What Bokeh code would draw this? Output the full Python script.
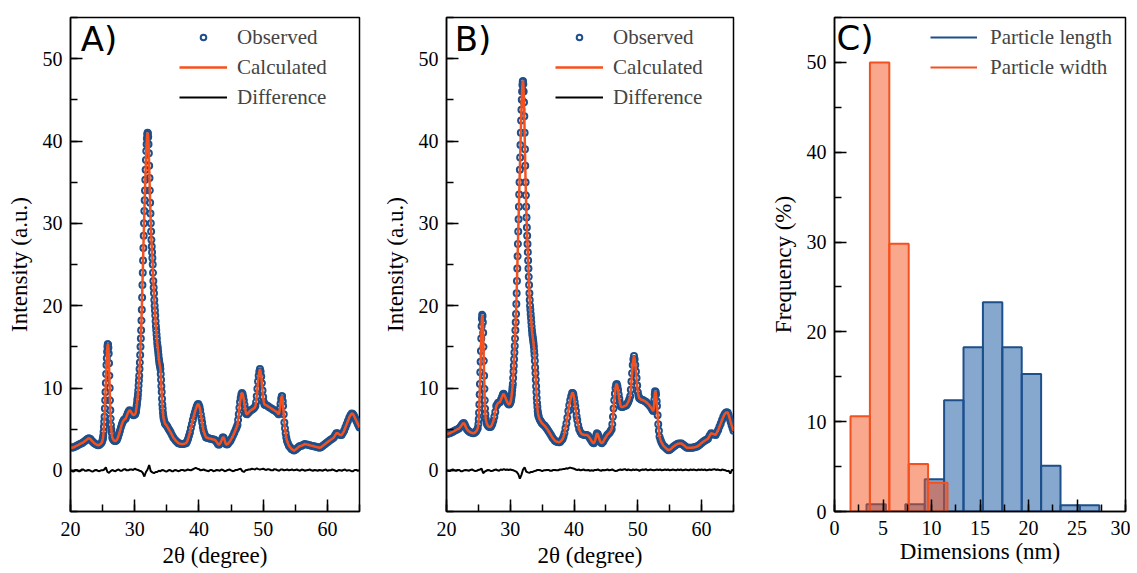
from bokeh.plotting import figure
from bokeh.layouts import row
from bokeh.models import Legend, LegendItem, Label, SingleIntervalTicker, Range1d
from bokeh.embed import file_html
from bokeh.resources import INLINE

# ---------------- data ----------------
# Panel A: (2theta, observed intensity)
pattern_A = [
    (20.0, 2.8), (20.25, 2.75), (20.5, 2.8), (20.75, 2.9), (21.0, 3.0), (21.25, 3.1), (21.5, 3.2),
    (21.75, 3.3), (22.0, 3.4), (22.25, 3.55), (22.5, 3.7), (22.7, 3.85), (22.9, 3.9), (23.1, 3.8),
    (23.3, 3.6), (23.5, 3.45), (23.7, 3.3), (23.9, 3.2), (24.1, 3.1), (24.3, 3.05), (24.5, 3.1),
    (24.7, 3.2), (24.9, 3.4), (25.0, 3.7), (25.05, 3.9), (25.1, 4.2), (25.15, 4.7), (25.2, 5.3),
    (25.25, 5.9), (25.3, 6.5), (25.35, 7.5), (25.4, 8.5), (25.45, 9.5), (25.5, 10.6), (25.55, 11.7),
    (25.6, 12.8), (25.65, 13.6), (25.7, 14.4), (25.75, 15.0), (25.8, 15.3), (25.85, 15.3), (25.9, 14.9),
    (25.95, 14.2), (26.0, 13.0), (26.05, 11.5), (26.1, 10.0), (26.15, 8.5), (26.2, 7.3), (26.25, 6.3),
    (26.3, 5.5), (26.35, 5.0), (26.4, 4.6), (26.5, 4.0), (26.6, 3.8), (26.7, 3.7), (26.8, 3.6),
    (26.95, 3.55), (27.1, 3.6), (27.25, 3.75), (27.4, 4.0), (27.55, 4.4), (27.7, 4.8), (27.85, 5.2),
    (28.0, 5.6), (28.15, 5.9), (28.3, 6.1), (28.45, 6.2), (28.6, 6.3), (28.75, 6.6), (28.9, 6.9),
    (29.05, 7.15), (29.2, 7.3), (29.35, 7.2), (29.5, 7.0), (29.65, 6.8), (29.8, 6.7), (29.95, 6.75),
    (30.0, 6.8), (30.05, 6.85), (30.1, 6.9), (30.15, 7.0), (30.2, 7.2), (30.25, 7.5), (30.3, 7.8),
    (30.35, 8.1), (30.4, 8.5), (30.45, 8.8), (30.5, 9.2), (30.55, 9.7), (30.6, 10.3), (30.65, 10.9),
    (30.7, 11.5), (30.75, 12.3), (30.8, 13.1), (30.85, 14.0), (30.9, 15.0), (30.95, 16.0), (31.0, 17.0),
    (31.05, 18.2), (31.1, 19.5), (31.15, 21.0), (31.2, 22.5), (31.25, 24.0), (31.3, 25.5), (31.35, 27.0),
    (31.4, 28.5), (31.45, 30.0), (31.5, 31.5), (31.55, 32.8), (31.6, 34.0), (31.65, 35.3), (31.7, 36.5),
    (31.75, 37.7), (31.8, 38.8), (31.85, 39.6), (31.9, 40.3), (31.95, 40.8), (32.0, 41.0), (32.05, 40.9),
    (32.1, 40.5), (32.15, 39.6), (32.2, 38.5), (32.25, 37.0), (32.3, 35.5), (32.35, 34.0), (32.4, 32.5),
    (32.45, 31.2), (32.5, 30.0), (32.55, 29.0), (32.6, 28.0), (32.65, 27.2), (32.7, 26.5), (32.75, 25.8),
    (32.8, 25.0), (32.85, 24.0), (32.9, 23.0), (32.95, 22.2), (33.0, 21.5), (33.05, 20.7), (33.1, 20.0),
    (33.15, 19.4), (33.2, 18.8), (33.25, 18.1), (33.3, 17.5), (33.35, 17.0), (33.4, 16.5), (33.45, 16.0),
    (33.5, 15.5), (33.55, 15.1), (33.6, 14.8), (33.65, 14.4), (33.7, 14.0), (33.75, 13.6), (33.8, 13.3),
    (33.85, 13.0), (33.9, 12.8), (33.95, 12.6), (34.0, 12.3), (34.05, 11.7), (34.1, 11.0), (34.15, 10.2),
    (34.2, 9.5), (34.25, 8.7), (34.3, 8.0), (34.35, 7.5), (34.4, 7.0), (34.45, 6.6), (34.5, 6.3),
    (34.6, 6.0), (34.7, 5.7), (34.85, 5.55), (35.0, 5.4), (35.15, 5.2), (35.3, 5.0), (35.45, 4.8),
    (35.6, 4.6), (35.8, 4.3), (36.0, 4.0), (36.2, 3.8), (36.4, 3.6), (36.6, 3.45), (36.8, 3.3),
    (37.0, 3.25), (37.2, 3.2), (37.4, 3.2), (37.6, 3.2), (37.8, 3.25), (38.0, 3.3), (38.15, 3.5),
    (38.3, 3.8), (38.45, 4.2), (38.6, 4.6), (38.75, 5.1), (38.9, 5.6), (39.05, 6.1), (39.2, 6.6),
    (39.35, 7.0), (39.5, 7.4), (39.65, 7.75), (39.8, 8.0), (39.9, 8.05), (40.0, 7.9), (40.1, 7.65),
    (40.2, 7.3), (40.3, 6.8), (40.4, 6.3), (40.5, 5.8), (40.6, 5.3), (40.7, 4.9), (40.8, 4.6),
    (40.95, 4.3), (41.1, 4.0), (41.3, 3.95), (41.5, 3.9), (41.75, 3.85), (42.0, 3.8), (42.25, 3.75),
    (42.5, 3.7), (42.65, 3.55), (42.8, 3.4), (42.95, 3.2), (43.1, 3.1), (43.25, 3.2), (43.4, 3.4),
    (43.55, 3.7), (43.7, 4.0), (43.8, 4.0), (43.9, 3.9), (44.05, 3.5), (44.2, 3.2), (44.35, 3.15),
    (44.5, 3.2), (44.7, 3.4), (44.9, 3.6), (45.1, 3.9), (45.3, 4.2), (45.5, 4.55), (45.7, 4.9),
    (45.85, 5.2), (46.0, 5.5), (46.1, 6.1), (46.2, 6.8), (46.3, 7.6), (46.4, 8.3), (46.5, 8.8),
    (46.6, 9.2), (46.7, 9.4), (46.8, 9.3), (46.9, 8.9), (47.0, 8.5), (47.1, 8.0), (47.2, 7.5),
    (47.3, 7.0), (47.4, 6.85), (47.5, 6.8), (47.65, 6.95), (47.8, 7.1), (47.95, 7.2), (48.1, 7.3),
    (48.3, 7.4), (48.5, 7.5), (48.65, 7.6), (48.8, 7.8), (48.9, 8.3), (49.0, 9.0), (49.1, 9.9),
    (49.2, 10.8), (49.3, 11.5), (49.4, 12.0), (49.5, 12.3), (49.6, 12.0), (49.7, 11.4), (49.8, 10.6),
    (49.9, 9.7), (50.0, 8.9), (50.1, 8.3), (50.2, 8.0), (50.35, 7.95), (50.5, 7.9), (50.7, 7.8),
    (50.9, 7.7), (51.1, 7.6), (51.3, 7.5), (51.5, 7.4), (51.7, 7.3), (51.9, 7.2), (52.1, 7.1),
    (52.25, 7.0), (52.4, 6.8), (52.5, 7.0), (52.6, 7.5), (52.7, 8.1), (52.8, 8.7), (52.9, 9.0),
    (52.95, 9.0), (53.05, 8.4), (53.1, 7.8), (53.2, 6.8), (53.3, 5.8), (53.4, 5.1), (53.5, 4.5),
    (53.6, 4.0), (53.7, 3.6), (53.85, 3.3), (54.0, 3.0), (54.2, 2.8), (54.4, 2.6), (54.6, 2.5),
    (54.8, 2.4), (55.0, 2.5), (55.2, 2.6), (55.4, 2.75), (55.6, 2.9), (55.8, 2.95), (56.0, 3.0),
    (56.25, 3.1), (56.5, 3.2), (56.75, 3.15), (57.0, 3.1), (57.25, 3.05), (57.5, 3.0), (57.75, 2.95),
    (58.0, 2.9), (58.25, 2.85), (58.5, 2.8), (58.75, 2.75), (59.0, 2.8), (59.25, 2.95), (59.5, 3.1),
    (59.75, 3.25), (60.0, 3.4), (60.25, 3.55), (60.5, 3.7), (60.75, 3.85), (61.0, 4.0), (61.2, 4.25),
    (61.4, 4.5), (61.6, 4.5), (61.8, 4.4), (62.0, 4.3), (62.2, 4.3), (62.4, 4.5), (62.6, 4.8),
    (62.8, 5.2), (63.0, 5.6), (63.2, 6.0), (63.4, 6.4), (63.6, 6.7), (63.8, 6.9), (63.95, 6.85),
    (64.1, 6.7), (64.25, 6.45), (64.4, 6.2), (64.55, 5.95), (64.7, 5.7), (64.85, 5.45), (65.0, 5.2),
]
two_theta_A = [p[0] for p in pattern_A]
observed_A = [p[1] for p in pattern_A]
calculated_A = observed_A  # the fit lies on the observed points

# Panel B: (2theta, observed intensity)
pattern_B = [
    (20.0, 4.4), (20.25, 4.45), (20.5, 4.5), (20.75, 4.6), (21.0, 4.7), (21.25, 4.8), (21.5, 4.9),
    (21.75, 5.0), (22.0, 5.1), (22.2, 5.3), (22.4, 5.5), (22.55, 5.65), (22.7, 5.75), (22.85, 5.6),
    (23.0, 5.3), (23.2, 5.0), (23.4, 4.8), (23.6, 4.7), (23.8, 4.6), (24.0, 4.55), (24.2, 4.5),
    (24.4, 4.55), (24.6, 4.7), (24.75, 4.85), (24.9, 5.1), (25.0, 5.6), (25.05, 6.2), (25.1, 7.0),
    (25.15, 8.0), (25.2, 9.2), (25.25, 10.5), (25.3, 11.9), (25.35, 13.2), (25.4, 14.5), (25.45, 16.0),
    (25.5, 17.5), (25.55, 18.4), (25.6, 18.9), (25.65, 18.7), (25.7, 18.0), (25.75, 16.7), (25.8, 15.0),
    (25.85, 13.3), (25.9, 11.5), (25.95, 9.9), (26.0, 8.5), (26.05, 7.5), (26.1, 6.8), (26.15, 6.3),
    (26.25, 5.9), (26.35, 5.6), (26.5, 5.4), (26.65, 5.3), (26.8, 5.25), (26.95, 5.3), (27.1, 5.5),
    (27.2, 5.7), (27.35, 6.0), (27.5, 6.5), (27.65, 7.1), (27.8, 7.8), (27.95, 8.0), (28.1, 8.2),
    (28.25, 8.25), (28.4, 8.3), (28.55, 8.6), (28.7, 8.9), (28.85, 9.2), (28.95, 9.3), (29.1, 9.1),
    (29.2, 8.9), (29.35, 8.6), (29.5, 8.3), (29.65, 8.1), (29.8, 8.0), (29.9, 8.05), (30.0, 8.2),
    (30.05, 8.35), (30.1, 8.5), (30.15, 8.75), (30.2, 9.0), (30.25, 9.3), (30.3, 9.7), (30.35, 10.1),
    (30.4, 10.5), (30.45, 11.2), (30.5, 12.0), (30.55, 12.7), (30.6, 13.5), (30.65, 14.3), (30.7, 15.1),
    (30.75, 16.0), (30.8, 17.0), (30.85, 18.0), (30.9, 19.0), (30.95, 20.2), (31.0, 21.5), (31.05, 23.0),
    (31.1, 24.5), (31.15, 26.0), (31.2, 27.5), (31.25, 29.0), (31.3, 30.5), (31.35, 32.0), (31.4, 33.5),
    (31.45, 35.0), (31.5, 36.5), (31.55, 38.0), (31.6, 39.5), (31.65, 41.0), (31.7, 42.5), (31.75, 43.8),
    (31.8, 45.0), (31.85, 46.0), (31.9, 46.8), (31.95, 47.2), (32.0, 47.3), (32.05, 46.9), (32.1, 46.0),
    (32.15, 44.7), (32.2, 43.0), (32.25, 41.0), (32.3, 39.0), (32.35, 37.0), (32.4, 35.0), (32.45, 33.4),
    (32.5, 32.0), (32.55, 30.7), (32.6, 29.5), (32.65, 28.5), (32.7, 27.5), (32.75, 26.5), (32.8, 25.5),
    (32.85, 24.5), (32.9, 23.5), (32.95, 22.5), (33.0, 21.5), (33.05, 20.7), (33.1, 20.0), (33.15, 19.5),
    (33.2, 19.0), (33.25, 18.5), (33.3, 18.0), (33.35, 17.5), (33.4, 17.0), (33.45, 16.6), (33.5, 16.3),
    (33.55, 16.0), (33.6, 15.7), (33.65, 15.4), (33.7, 15.0), (33.75, 14.5), (33.8, 14.0), (33.85, 13.3),
    (33.9, 12.5), (33.95, 11.8), (34.0, 11.0), (34.05, 10.2), (34.1, 9.5), (34.15, 8.8), (34.2, 8.2),
    (34.25, 7.7), (34.3, 7.2), (34.35, 6.9), (34.4, 6.7), (34.45, 6.5), (34.6, 6.2), (34.75, 6.0),
    (34.9, 5.8), (35.0, 5.7), (35.2, 5.55), (35.4, 5.4), (35.6, 5.2), (35.8, 5.0), (36.0, 4.75),
    (36.2, 4.5), (36.4, 4.25), (36.6, 4.0), (36.8, 3.8), (37.0, 3.6), (37.2, 3.5), (37.4, 3.45),
    (37.6, 3.4), (37.8, 3.45), (38.0, 3.6), (38.2, 3.8), (38.35, 4.1), (38.5, 4.5), (38.65, 5.1),
    (38.8, 5.7), (38.95, 6.4), (39.1, 7.2), (39.25, 7.9), (39.4, 8.5), (39.55, 9.0), (39.7, 9.4),
    (39.8, 9.4), (39.9, 9.2), (40.0, 8.8), (40.1, 8.3), (40.2, 7.8), (40.3, 7.2), (40.4, 6.6),
    (40.5, 6.1), (40.65, 5.5), (40.8, 5.0), (41.0, 4.65), (41.2, 4.4), (41.4, 4.35), (41.6, 4.3),
    (41.8, 4.3), (42.0, 4.3), (42.2, 4.2), (42.4, 4.0), (42.6, 3.75), (42.8, 3.5), (42.95, 3.35),
    (43.1, 3.3), (43.25, 3.5), (43.4, 3.9), (43.5, 4.3), (43.6, 4.5), (43.7, 4.4), (43.8, 4.2),
    (43.95, 3.8), (44.1, 3.5), (44.25, 3.35), (44.4, 3.3), (44.6, 3.5), (44.8, 3.8), (45.0, 4.05),
    (45.2, 4.3), (45.4, 4.45), (45.6, 4.6), (45.75, 4.8), (45.9, 5.0), (46.0, 5.6), (46.1, 6.5),
    (46.2, 7.5), (46.3, 8.5), (46.4, 9.3), (46.5, 10.0), (46.6, 10.4), (46.7, 10.5), (46.8, 10.2),
    (46.9, 9.8), (47.0, 9.2), (47.1, 8.7), (47.2, 8.2), (47.3, 7.8), (47.45, 7.7), (47.6, 7.7),
    (47.75, 7.75), (47.9, 7.8), (48.05, 7.85), (48.2, 7.9), (48.35, 8.1), (48.5, 8.3), (48.65, 8.6),
    (48.8, 9.0), (48.9, 9.8), (49.0, 10.8), (49.1, 11.8), (49.2, 12.8), (49.3, 13.5), (49.4, 13.9),
    (49.5, 13.5), (49.6, 12.8), (49.7, 12.0), (49.8, 11.2), (49.9, 10.3), (50.0, 9.5), (50.1, 9.1),
    (50.2, 8.8), (50.35, 8.7), (50.5, 8.6), (50.7, 8.55), (50.9, 8.5), (51.1, 8.4), (51.3, 8.3),
    (51.5, 8.15), (51.7, 8.0), (51.9, 7.8), (52.1, 7.6), (52.25, 7.4), (52.4, 7.2), (52.5, 7.5),
    (52.55, 8.0), (52.6, 8.6), (52.65, 9.2), (52.7, 9.6), (52.8, 9.5), (52.85, 9.2), (52.95, 8.4),
    (53.0, 7.8), (53.1, 6.7), (53.2, 5.6), (53.3, 4.8), (53.4, 4.1), (53.55, 3.7), (53.7, 3.4),
    (53.85, 3.2), (54.0, 3.0), (54.2, 2.85), (54.4, 2.7), (54.6, 2.55), (54.8, 2.45), (55.0, 2.5),
    (55.2, 2.6), (55.4, 2.75), (55.6, 2.9), (55.8, 3.0), (56.0, 3.1), (56.2, 3.2), (56.4, 3.25),
    (56.65, 3.25), (56.9, 3.25), (57.1, 3.1), (57.3, 3.0), (57.5, 2.85), (57.7, 2.75), (57.9, 2.75),
    (58.1, 2.75), (58.3, 2.75), (58.5, 2.75), (58.7, 2.78), (58.9, 2.8), (59.1, 2.85), (59.3, 2.9),
    (59.5, 3.0), (59.7, 3.1), (59.95, 3.3), (60.2, 3.45), (60.4, 3.55), (60.6, 3.65), (60.8, 3.75),
    (61.0, 3.85), (61.25, 4.2), (61.5, 4.5), (61.7, 4.45), (61.9, 4.4), (62.05, 4.35), (62.2, 4.3),
    (62.4, 4.6), (62.6, 4.9), (62.8, 5.3), (63.0, 5.7), (63.2, 6.1), (63.4, 6.5), (63.6, 6.8),
    (63.8, 7.0), (63.95, 7.05), (64.1, 7.0), (64.25, 6.7), (64.4, 6.3), (64.55, 5.9), (64.7, 5.5),
    (64.85, 5.15), (65.0, 4.8),
]
two_theta_B = [p[0] for p in pattern_B]
observed_B = [p[1] for p in pattern_B]
calculated_B = observed_B

# Difference curves, one value every 0.25 degree from 20 to 65
difference_A = [
    0.0, -0.1, -0.15, 0.05, 0.05, -0.1, -0.1, 0.1, 0.1, -0.05, -0.05, 0.05, 0.0, -0.1, -0.15, 0.0, 0.05, -0.05, -0.1, 0.0,
    0.0, 0.1, 0.35, -0.2, -0.3, -0.1, 0.05, -0.05, -0.1, 0.05, 0.1, -0.05, -0.05, 0.1, 0.15, 0.0, 0.0, 0.1, 0.1, 0.05,
    0.2, 0.1, 0.05, -0.05, -0.1, -0.3, -0.75, -0.2, 0.1, 0.65, -0.1, -0.25, -0.35, -0.2, -0.2, -0.05, -0.1, 0.05, 0.0, -0.1,
    -0.15, 0.0, 0.05, -0.1, -0.1, 0.05, 0.0, -0.1, -0.05, 0.05, 0.05, -0.05, 0.0, 0.1, 0.05, 0.0, 0.1, 0.2, 0.3, 0.2,
    0.15, 0.0, 0.05, 0.1, 0.0, -0.05, -0.1, 0.05, 0.05, -0.1, -0.05, 0.05, 0.0, -0.05, 0.1, 0.05, -0.1, -0.05, 0.05, 0.1,
    0.0, -0.1, -0.05, 0.05, 0.05, 0.15, 0.2, -0.1, -0.2, 0.0, 0.05, 0.1, 0.1, 0.2, 0.15, 0.1, 0.25, 0.15, 0.1, 0.15,
    0.2, 0.1, 0.05, 0.15, 0.1, 0.0, 0.0, 0.15, 0.1, 0.0, -0.05, 0.1, 0.1, 0.0, 0.05, 0.1, 0.0, 0.05, 0.1, 0.0,
    0.05, 0.1, 0.0, -0.05, 0.1, 0.05, -0.05, 0.0, 0.05, 0.1, 0.0, -0.05, 0.05, 0.0, -0.05, 0.05, 0.0, -0.05, 0.05, 0.1,
    -0.05, 0.0, 0.0, 0.1, 0.05, -0.05, -0.1, 0.05, 0.0, -0.05, 0.05, 0.1, -0.05, 0.0, 0.0, -0.1, -0.1, 0.05, 0.05, -0.05,
    0.0,
]
difference_B = [
    0.0, -0.05, -0.1, 0.05, 0.1, 0.0, -0.05, 0.05, 0.05, -0.1, -0.1, 0.0, 0.05, 0.0, -0.05, 0.05, 0.1, 0.0, -0.1, -0.05,
    0.05, 0.1, 0.2, -0.35, -0.15, -0.05, 0.05, 0.0, -0.1, -0.05, 0.05, 0.1, 0.0, -0.05, 0.1, 0.05, 0.15, 0.05, 0.1, 0.05,
    0.1, 0.05, 0.0, -0.1, -0.2, -0.45, -1.0, -0.55, 0.1, 0.35, -0.15, -0.25, -0.3, -0.2, -0.2, -0.1, -0.05, 0.05, 0.05, 0.0,
    -0.1, 0.0, 0.0, 0.05, 0.05, -0.05, -0.05, 0.05, 0.05, 0.0, 0.0, 0.1, 0.1, 0.15, 0.15, 0.25, 0.2, 0.3, 0.3, 0.25,
    0.2, 0.1, 0.05, 0.1, 0.0, 0.05, 0.1, 0.0, 0.0, 0.05, -0.05, 0.0, -0.05, 0.05, 0.05, 0.1, 0.0, -0.05, 0.05, 0.0,
    0.05, 0.1, 0.0, 0.05, 0.1, 0.0, -0.1, -0.05, 0.05, 0.1, 0.05, 0.1, 0.15, 0.0, 0.1, 0.05, 0.0, 0.1, 0.05, 0.1,
    0.05, -0.05, 0.05, 0.1, 0.05, 0.15, 0.0, 0.05, 0.1, 0.05, 0.0, 0.05, 0.1, 0.05, 0.1, 0.0, 0.05, 0.1, 0.05, 0.1,
    0.0, 0.05, 0.1, 0.05, 0.0, 0.1, 0.05, 0.1, 0.0, 0.05, 0.1, 0.05, 0.0, 0.1, 0.05, 0.1, 0.05, 0.0, 0.1, 0.05,
    0.1, 0.05, 0.1, 0.0, 0.05, 0.1, 0.05, 0.1, 0.15, 0.05, 0.1, 0.05, 0.0, 0.1, 0.05, 0.0, -0.1, -0.05, -0.4, 0.05,
    0.05,
]
diff_step = 0.25
diff_x_A = [20 + diff_step * i for i in range(len(difference_A))]
diff_x_B = [20 + diff_step * i for i in range(len(difference_B))]

# Panel C histograms (bin edges in nm, frequency in %)
length_edges = [3.3, 5.3, 7.3, 9.3, 11.3, 13.3, 15.3, 17.3, 19.3, 21.3, 23.3, 25.3, 27.3]
length_freq = [0.8, 0.0, 0.8, 3.6, 12.4, 18.3, 23.3, 18.3, 15.3, 5.1, 0.7, 0.7]
width_edges = [1.65, 3.65, 5.65, 7.65, 9.65, 11.65]
width_freq = [10.6, 50.0, 29.8, 5.3, 3.2]

BLUE = "#1d4f8b"
HIST_BLUE = "#2260a6"
ORANGE = "#f4511e"
SERIF = "Liberation Serif"
NAN = float("nan")
FIG_H = 573


def style(p, xint, yint):
    p.outline_line_color = "black"
    p.outline_line_width = 1.5
    p.xgrid.visible = False
    p.ygrid.visible = False
    p.xaxis.ticker = SingleIntervalTicker(interval=xint, num_minor_ticks=2)
    p.yaxis.ticker = SingleIntervalTicker(interval=yint, num_minor_ticks=2)
    for ax in (p.xaxis[0], p.yaxis[0]):
        ax.axis_line_color = "black"
        ax.axis_line_width = 1.5
        ax.major_tick_in = 12
        ax.major_tick_out = 0
        ax.minor_tick_in = 7
        ax.minor_tick_out = 0
        ax.major_tick_line_color = "black"
        ax.minor_tick_line_color = "black"
        ax.major_tick_line_width = 1.5
        ax.minor_tick_line_width = 1.5
        ax.major_label_text_font = SERIF
        ax.major_label_text_font_size = "20px"
        ax.major_label_text_color = "black"
        ax.axis_label_text_font = SERIF
        ax.axis_label_text_font_size = "23px"
        ax.axis_label_text_font_style = "normal"
        ax.axis_label_text_color = "black"
    p.yaxis.major_label_standoff = 8
    p.yaxis.axis_label_standoff = 8


def xrd_panel(letter, x, obs, calc, dx, diff, left_border, frame_w, label_dx):
    p = figure(width=left_border + frame_w + 5, height=FIG_H, output_backend="svg",
               toolbar_location=None, x_range=Range1d(20, 65), y_range=Range1d(-5, 55),
               min_border_left=left_border, min_border_right=5, min_border_top=17,
               min_border_bottom=62)
    style(p, 10, 10)
    p.xaxis.major_label_standoff = 10
    p.xaxis.axis_label_standoff = 4
    p.xaxis.axis_label = "2θ (degree)"
    p.yaxis.axis_label = "Intensity (a.u.)"
    r_obs = p.scatter(x, obs, marker="circle", size=6, fill_color=None,
                      line_color=BLUE, line_width=2.0)
    r_calc = p.line(x, calc, line_color=ORANGE, line_width=2.5)
    r_diff = p.line(dx, diff, line_color="black", line_width=2)
    leg = Legend(items=[LegendItem(label="Observed", renderers=[r_obs]),
                        LegendItem(label="Calculated", renderers=[r_calc]),
                        LegendItem(label="Difference", renderers=[r_diff])],
                 location=(104, 394), margin=0, padding=5, spacing=0,
                 glyph_width=48, glyph_height=14, label_height=30, label_standoff=10,
                 label_text_font=SERIF, label_text_font_size="21px",
                 border_line_alpha=0, background_fill_alpha=0)
    p.add_layout(leg)
    p.add_layout(Label(x=20 + label_dx, y=54.8, text=letter, text_font="DejaVu Sans",
                       text_font_size="34px", text_baseline="top", text_color="black"))
    return p


pA = xrd_panel("A)", two_theta_A, observed_A, calculated_A, diff_x_A, difference_A, 70, 289, 1.6)
pB = xrd_panel("B)", two_theta_B, observed_B, calculated_B, diff_x_B, difference_B, 82, 287, 1.3)

pC = figure(width=96 + 291 + 5, height=FIG_H, output_backend="svg", toolbar_location=None,
            x_range=Range1d(0, 30), y_range=Range1d(0, 55),
            min_border_left=96, min_border_right=5, min_border_top=17, min_border_bottom=58)
style(pC, 5, 10)
pC.xaxis.major_label_standoff = 9
pC.xaxis.axis_label_standoff = 1
pC.xaxis.axis_label = "Dimensions (nm)"
pC.yaxis.axis_label = "Frequency (%)"
pC.quad(left=length_edges[:-1], right=length_edges[1:], bottom=0, top=length_freq,
        fill_color=HIST_BLUE, fill_alpha=0.55, line_color=BLUE, line_width=2)
pC.quad(left=width_edges[:-1], right=width_edges[1:], bottom=0, top=width_freq,
        fill_color=ORANGE, fill_alpha=0.5, line_color=ORANGE, line_width=2)
# line-style legend swatches (no visible data)
l1 = pC.line([NAN], [NAN], line_color=BLUE, line_width=2)
l2 = pC.line([NAN], [NAN], line_color=ORANGE, line_width=2)
legC = Legend(items=[LegendItem(label="Particle length", renderers=[l1]),
                     LegendItem(label="Particle width", renderers=[l2])],
              location=(91, 424), margin=0, padding=5, spacing=0,
              glyph_width=47, glyph_height=30, label_height=30, label_standoff=13,
              label_text_font=SERIF, label_text_font_size="21px",
              border_line_alpha=0, background_fill_alpha=0)
pC.add_layout(legC)
pC.add_layout(Label(x=0.2, y=54.9, text="C)", text_font="DejaVu Sans",
                    text_font_size="34px", text_baseline="top", text_color="black"))

layout = row(pA, pB, pC)
open("out.html", "w").write(file_html(layout, INLINE))
